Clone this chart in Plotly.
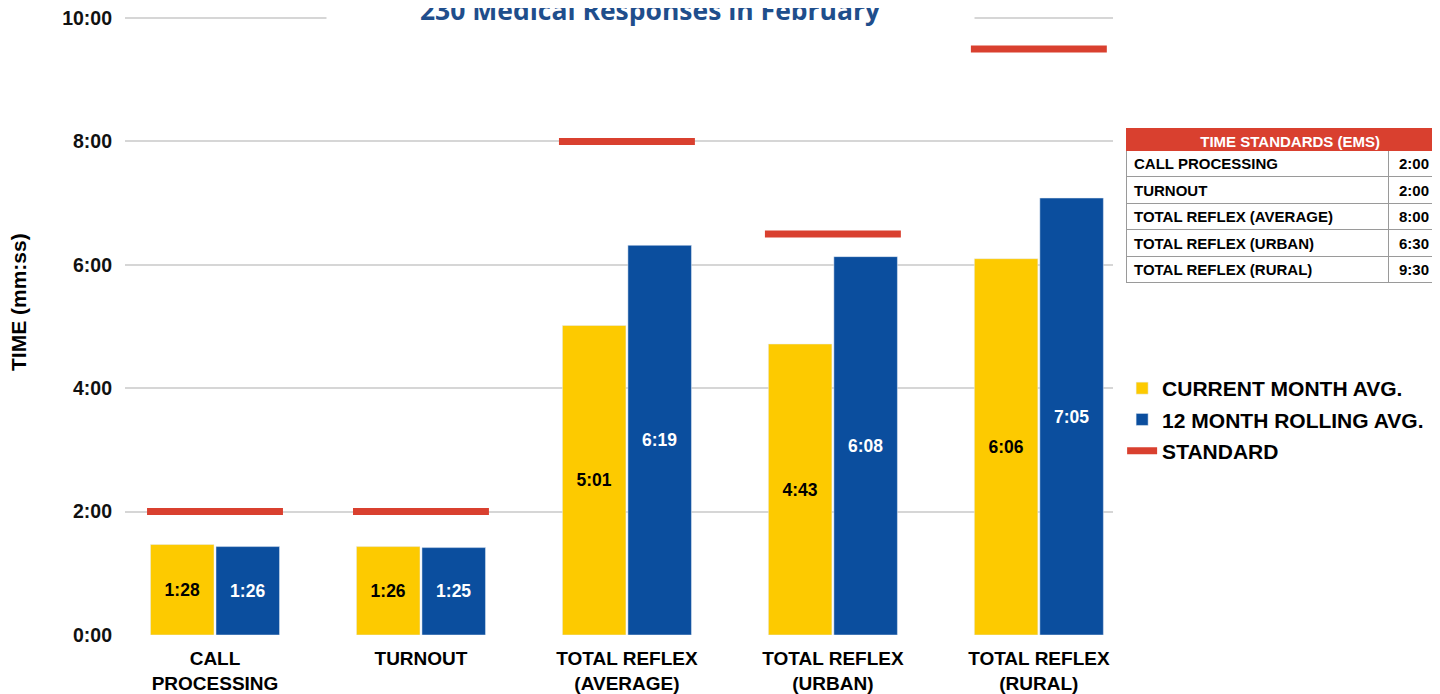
import plotly.graph_objects as go

# ---------------- data ----------------
categories = ["CALL<br>PROCESSING", "TURNOUT", "TOTAL REFLEX<br>(AVERAGE)",
              "TOTAL REFLEX<br>(URBAN)", "TOTAL REFLEX<br>(RURAL)"]
current_month = ["1:28", "1:26", "5:01", "4:43", "6:06"]
rolling_12 = ["1:26", "1:25", "6:19", "6:08", "7:05"]
standard = ["2:00", "2:00", "8:00", "6:30", "9:30"]
table_labels = ["CALL PROCESSING", "TURNOUT", "TOTAL REFLEX (AVERAGE)",
                "TOTAL REFLEX (URBAN)", "TOTAL REFLEX (RURAL)"]
y_ticks = ["0:00", "2:00", "4:00", "6:00", "8:00", "10:00"]
title_text = "230 Medical Responses in February"


def to_min(s):
    m, sec = s.split(":")
    return int(m) + int(sec) / 60.0


xs = list(range(len(categories)))
cur_v = [to_min(s) for s in current_month]
roll_v = [to_min(s) for s in rolling_12]
std_v = [to_min(s) for s in standard]
tick_v = [to_min(s) for s in y_ticks]

YELLOW = "#FDCA00"
BLUE = "#0B4E9E"
RED = "#D9402F"
FONT = "Liberation Sans, Arial, sans-serif"

fig = go.Figure()

fig.add_trace(go.Bar(
    x=xs, y=cur_v, name="CURRENT MONTH AVG.", marker_color=YELLOW,
    text=current_month, textposition="inside", insidetextanchor="middle",
    textangle=0, textfont=dict(family=FONT, size=17.5, color="black", weight=700),
    legendgroup="a",
))
fig.add_trace(go.Bar(
    x=xs, y=roll_v, name="12 MONTH ROLLING AVG.", marker_color=BLUE,
    text=rolling_12, textposition="inside", insidetextanchor="middle",
    textangle=0, textfont=dict(family=FONT, size=17.5, color="white", weight=700),
    legendgroup="b",
))

# standard line segments, one per category
half = 0.33
sx, sy = [], []
for i, v in zip(xs, std_v):
    sx += [i - half, i + half, None]
    sy += [v, v, None]
fig.add_trace(go.Scatter(
    x=sx, y=sy, mode="lines", name="STANDARD",
    line=dict(color=RED, width=7), legendgroup="c",
))

W, H = 1432, 686
ML, MR, MT, MB = 117, 3, 7, 59
plot_w = W - ML - MR
plot_h = H - MT - MB


def ydom(px_top, px_bottom):
    # convert screen pixel rows (page coords) into paper fractions
    top = H - MB + 8
    return [(top - px_bottom) / plot_h, (top - px_top) / plot_h]


# standards table
fig.add_trace(go.Table(
    domain=dict(x=[(1126 - 8 - ML) / plot_w, 1.0], y=ydom(128, 284)),
    columnwidth=[262, 49],
    header=dict(
        values=["TIME STANDARDS (EMS)", ""],
        fill_color=RED, line=dict(color=RED, width=1),
        align=["right", "right"], height=22,
        font=dict(family=FONT, size=15, color="white", weight=700),
    ),
    cells=dict(
        values=[table_labels, standard],
        fill_color="white", line=dict(color="#9a9a9a", width=1),
        align=["left", "right"], height=26.5,
        font=dict(family=FONT, size=15, color="black", weight=700),
    ),
))

fig.update_layout(
    width=W, height=H,
    margin=dict(l=ML, r=MR, t=MT, b=MB, autoexpand=False),
    paper_bgcolor="white", plot_bgcolor="white",
    barmode="group", bargap=0.364, bargroupgap=0.03,
    showlegend=True,
    legend=dict(
        x=0.760, y=ydom(368, 368)[0], xanchor="left", yanchor="top",
        font=dict(family=FONT, size=21, color="black", weight=700),
        traceorder="grouped", tracegroupgap=1,
        bgcolor="rgba(0,0,0,0)",
    ),
    xaxis=dict(
        domain=[0, 988 / plot_w],
        range=[-0.437, 4.36], automargin=False,
        tickmode="array", tickvals=xs, ticktext=categories,
        tickfont=dict(family=FONT, size=19, color="black", weight=700),
        showgrid=False, zeroline=False, showline=False, ticks="",
        ticklabelstandoff=10,
    ),
    yaxis=dict(
        range=[0, 10.05], automargin=False,
        tickmode="array", tickvals=tick_v, ticktext=y_ticks,
        tickfont=dict(family=FONT, size=19.5, color="#111", weight=700),
        ticklabeloverflow="allow",
        showgrid=True, gridcolor="#d6d6d6", gridwidth=2,
        zeroline=False, showline=False, ticks="", ticklabelstandoff=12,
    ),
    annotations=[
        dict(
            text=title_text, xref="paper", yref="paper",
            x=(642 - ML) / plot_w, y=1.008, xanchor="center", yanchor="middle",
            showarrow=False, width=645, height=34, bgcolor="white",
            font=dict(family="Open Sans, sans-serif", size=26.5, color="#1F4E8C", weight=700),
        ),
        dict(
            text="TIME (mm:ss)", xref="paper", yref="paper",
            x=(10 - ML) / plot_w, y=ydom(302, 302)[0], xanchor="center", yanchor="middle",
            textangle=-90, showarrow=False,
            font=dict(family=FONT, size=21, color="black", weight=700),
        ),
    ],
)

fig.write_html("out.html")
